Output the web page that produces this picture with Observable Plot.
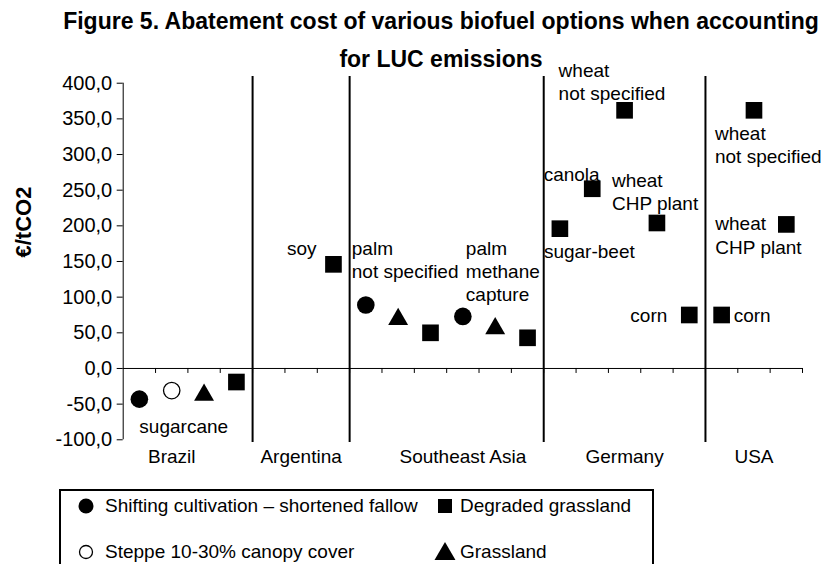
<!DOCTYPE html>
<html>
<head>
<meta charset="utf-8">
<script src="https://cdn.jsdelivr.net/npm/d3@7"></script>
<script src="https://cdn.jsdelivr.net/npm/@observablehq/plot@0.6"></script>
<style>
  html, body { margin: 0; padding: 0; background: #fff; overflow: hidden; }
  #wrap { position: relative; width: 825px; height: 564px; font-family: "Liberation Sans", Arial, sans-serif; color: #000; }
  #title { position: absolute; left: 57px; width: 768px; top: 2px; text-align: center; font-weight: bold; font-size: 23px; line-height: 38px; }
  #chart { position: absolute; left: 0; top: 56px; }
  #legend { position: absolute; left: 59px; top: 489px; width: 591px; height: 90px; border: 2px solid #000; }
  .sym { position: absolute; }
  .lab { position: absolute; font-size: 19px; line-height: 22px; white-space: nowrap; }
</style>
</head>
<body>
<div id="wrap">
  <div id="title">Figure 5. Abatement cost of various biofuel options when accounting<br>for LUC emissions</div>
  <div id="chart"></div>
  <div id="legend"></div>
</div>
<script>
// ---- data ----
const countries = ["Brazil", "Argentina", "Southeast Asia", "Germany", "USA"];
const countrySlots = [4, 3, 6, 5, 3];          // number of option slots per country
const countryLabelSlot = [1, 5, 10, 15, 19];   // slot under which each country name sits

const pointCountry = ["Brazil", "Brazil", "Brazil", "Brazil",
  "Argentina",
  "Southeast Asia", "Southeast Asia", "Southeast Asia", "Southeast Asia", "Southeast Asia", "Southeast Asia",
  "Germany", "Germany", "Germany", "Germany", "Germany",
  "USA", "USA", "USA"];
const pointSlot = [0, 1, 2, 3, 6, 7, 8, 9, 10, 11, 12, 13, 14, 15, 16, 17, 18, 19, 20];
const pointCover = ["shifting", "steppe", "grassland", "degraded",
  "degraded",
  "shifting", "grassland", "degraded", "shifting", "grassland", "degraded",
  "degraded", "degraded", "degraded", "degraded", "degraded",
  "degraded", "degraded", "degraded"];
const pointValue = [-43, -31, -33, -19,
  146,
  89, 73, 50, 73, 60, 43,
  196, 252, 362, 204, 75,
  75, 362, 202];

const yTicks = [-100, -50, 0, 50, 100, 150, 200, 250, 300, 350, 400];
const coverNames = {
  shifting: "Shifting cultivation \u2013 shortened fallow",
  degraded: "Degraded grassland",
  steppe: "Steppe 10-30% canopy cover",
  grassland: "Grassland"
};

// ---- derived ----
const points = pointValue.map((v, i) => ({country: pointCountry[i], slot: pointSlot[i], cover: pointCover[i], value: v}));
const nSlots = d3.sum(countrySlots);
const separators = d3.cumsum(countrySlots).slice(0, -1);
const slotTicks = d3.range(1, nSlots + 1);
const xc = d => d.slot + 0.5;

const ink = "#000";
const fs = 19;

function label(i, txt, opts) {
  return Plot.text([points[i]], Object.assign({
    x: xc, y: "value", text: () => txt, fontSize: fs, fill: ink,
    lineAnchor: "middle", lineHeight: 1.23, textAnchor: "start"
  }, opts));
}

const chart = Plot.plot({
  width: 825,
  height: 430,
  marginLeft: 122.7,
  marginRight: 23,
  marginTop: 20,
  marginBottom: 44,
  style: {fontFamily: "'Liberation Sans', Arial, sans-serif", fontSize: "19px", background: "transparent", color: ink, overflow: "visible"},
  x: {type: "linear", domain: [0, nSlots], axis: null},
  y: {domain: [-103.8, 409.4]},
  marks: [
    Plot.ruleY([0], {stroke: ink, strokeWidth: 1}),
    Plot.ruleX(slotTicks, {x: d => d, y1: 0, y2: -7, stroke: ink, strokeWidth: 1}),
    Plot.ruleX([0], {y1: yTicks[0], y2: yTicks[yTicks.length - 1], stroke: ink, strokeWidth: 1}),
    Plot.ruleX(separators, {stroke: ink, strokeWidth: 2}),
    Plot.axisY({ticks: yTicks, tickSize: 6, tickPadding: 5, label: null, fontSize: 20, stroke: ink,
      tickFormat: d => d.toFixed(1).replace(".", ",")}),
    Plot.text(["\u20ac/tCO2"], {frameAnchor: "left", dx: -99, dy: -2, rotate: -90, fontSize: 22, fontWeight: "bold", fill: ink}),
    Plot.text(countries, {x: (d, i) => countryLabelSlot[i] + 0.5, frameAnchor: "bottom", dy: 20, fontSize: fs, fill: ink}),
    Plot.dot(points.filter(d => d.cover === "degraded"), {x: xc, y: "value", symbol: "square", r: 9.4, fill: ink, stroke: "none"}),
    Plot.dot(points.filter(d => d.cover === "shifting"), {x: xc, y: "value", symbol: "circle", r: 8.8, fill: ink, stroke: "none"}),
    Plot.dot(points.filter(d => d.cover === "steppe"), {x: xc, y: "value", symbol: "circle", r: 8.2, fill: "#fff", stroke: ink, strokeWidth: 1.3}),
    Plot.dot(points.filter(d => d.cover === "grassland"), {x: xc, y: "value", symbol: "triangle", r: 7.4, dy: 2.9, fill: ink, stroke: "none"}),
    label(0, "sugarcane", {dx: 0, dy: 26}),
    label(4, "soy", {dx: -17, dy: -17, textAnchor: "end"}),
    label(5, "palm\nnot specified", {dx: -14, dy: -46}),
    label(8, "palm\nmethane\ncapture", {dx: 3, dy: -46}),
    label(11, "sugar-beet", {dx: -16, dy: 22}),
    label(12, "canola", {dx: -48.6, dy: -15.5}),
    label(13, "wheat\nnot specified", {dx: -66, dy: -29}),
    label(14, "wheat\nCHP plant", {dx: -45, dy: -32}),
    label(15, "corn", {dx: -22, dy: 0, textAnchor: "end"}),
    label(16, "corn", {dx: 12, dy: 0}),
    label(17, "wheat\nnot specified", {dx: -39, dy: 34}),
    label(18, "wheat\nCHP plant", {dx: -71, dy: 10})
  ]
});
document.getElementById("chart").appendChild(chart);

// ---- legend ----
const legendItems = [
  {cover: "shifting", symbol: d3.symbolCircle, size: Math.PI * 7.5 * 7.5, fill: ink, stroke: "none", col: 0, row: 0},
  {cover: "degraded", symbol: d3.symbolSquare, size: 14 * 14, fill: ink, stroke: "none", col: 1, row: 0},
  {cover: "steppe", symbol: d3.symbolCircle, size: Math.PI * 6.5 * 6.5, fill: "#fff", stroke: ink, col: 0, row: 1},
  {cover: "grassland", symbol: d3.symbolTriangle, size: 190, fill: ink, stroke: "none", col: 1, row: 1}
];
const colSym = [25, 383.5], colText = [44, 399], rowY = [15, 61];
const legend = document.getElementById("legend");
legendItems.forEach(it => {
  const s = d3.create("svg").attr("class", "sym").attr("width", 24).attr("height", 24)
    .style("left", (colSym[it.col] - 12) + "px").style("top", (rowY[it.row] - 12) + "px");
  s.append("path").attr("transform", it.symbol === d3.symbolTriangle ? "translate(12,14)" : "translate(12,12)")
    .attr("d", d3.symbol(it.symbol, it.size)()).attr("fill", it.fill).attr("stroke", it.stroke).attr("stroke-width", 1.3);
  legend.appendChild(s.node());
  const t = document.createElement("div");
  t.className = "lab";
  t.textContent = coverNames[it.cover];
  t.style.left = colText[it.col] + "px";
  t.style.top = (rowY[it.row] - 11) + "px";
  legend.appendChild(t);
});
</script>
</body>
</html>
